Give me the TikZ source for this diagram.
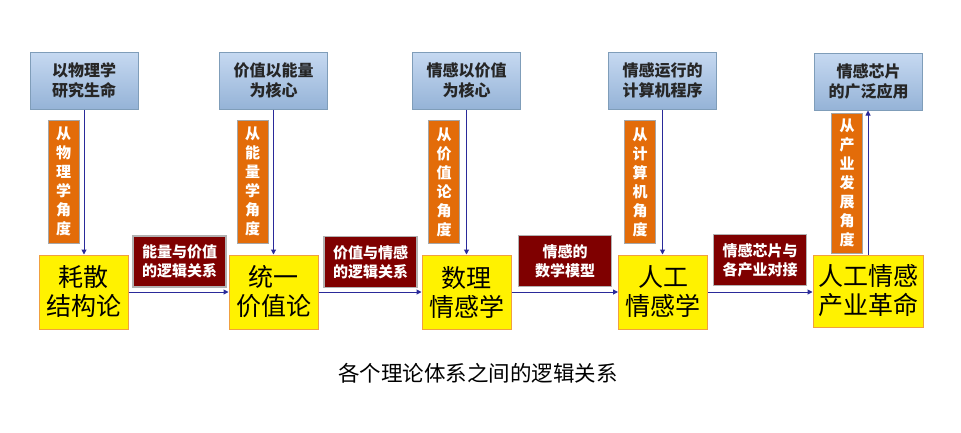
\documentclass[tikz,border=0pt]{standalone}
\usepackage{fontspec}
\setmainfont{Noto Sans CJK SC}
\usetikzlibrary{arrows.meta,calc}
\definecolor{blueA}{HTML}{C6D9F1}
\definecolor{blueB}{HTML}{95B3D7}
\definecolor{blueBorder}{HTML}{7F9DB9}
\definecolor{orangeF}{HTML}{E36C09}
\definecolor{darkredF}{HTML}{7F0000}
\definecolor{yBorder}{HTML}{F0A040}
\definecolor{arrowBlue}{HTML}{2A2A9A}
\begin{document}
\begin{tikzpicture}[x=1pt,y=-1pt,
  topbox/.style={draw=blueBorder, line width=1pt, top color=blueA, bottom color=blueB,
    minimum width=108pt, minimum height=57pt, inner sep=0pt, align=center,
    font=\fontsize{16}{20.5}\selectfont\bfseries, text=black!85},
  anglebox/.style={fill=orangeF, draw=gray!70, line width=1pt, minimum width=31pt,
    minimum height=123pt, inner sep=0pt, align=center, text=white,
    font=\fontsize{15}{19}\selectfont\bfseries},
  theory/.style={fill=yellow, draw=yBorder, line width=1pt, minimum width=89pt,
    minimum height=74pt, inner sep=0pt, align=center, font=\fontsize{25}{29}\selectfont},
  linkbox/.style={fill=darkredF, draw=gray!60, line width=1.2pt, minimum width=93pt,
    minimum height=51pt, inner sep=0pt, align=center, text=white,
    font=\fontsize{15}{19}\selectfont\bfseries},
  arr/.style={draw=arrowBlue, line width=1pt, -{Triangle[length=5pt,width=5pt]}}
]
\useasboundingbox[fill=white] (0,0) rectangle (961,432);

\node[topbox] (t1) at (84,80.5) {以物理学\\研究生命};
\node[topbox] (t2) at (273.5,80.5) {价值以能量\\为核心};
\node[topbox] (t3) at (466.5,80.5) {情感以价值\\为核心};
\node[topbox] (t4) at (662.5,80.5) {情感运行的\\计算机程序};
\node[topbox] (t5) at (868.5,81.5) {情感芯片\\的广泛应用};

\node[anglebox] (o1) at (63.5,181.5) {从\\物\\理\\学\\角\\度};
\node[anglebox] (o2) at (252.5,181.5) {从\\能\\量\\学\\角\\度};
\node[anglebox] (o3) at (444,182) {从\\价\\值\\论\\角\\度};
\node[anglebox] (o4) at (640,182) {从\\计\\算\\机\\角\\度};
\node[anglebox, minimum height=140pt] (o5) at (847,183) {从\\产\\业\\发\\展\\角\\度};

\node[theory] (y1) at (83.5,292) {耗散\\结构论};
\node[theory] (y2) at (273.5,292) {统一\\价值论};
\node[theory] (y3) at (466.5,292) {数理\\情感学};
\node[theory] (y4) at (663,292) {人工\\情感学};
\node[theory, minimum width=110pt, minimum height=72pt] (y5) at (868,291) {人工情感\\产业革命};

\node[linkbox] (r1) at (179.5,261.5) {能量与价值\\的逻辑关系};
\node[linkbox] (r2) at (370.5,262) {价值与情感\\的逻辑关系};
\node[linkbox] (r3) at (565,261) {情感的\\数学模型};
\node[linkbox] (r4) at (760,260) {情感芯片与\\各产业对接};

\draw[arr] (t1.south) -- (t1.south |- y1.north);
\draw[arr] (t2.south) -- (t2.south |- y2.north);
\draw[arr] (t3.south) -- (t3.south |- y3.north);
\draw[arr] (t4.south) -- (t4.south |- y4.north);
\draw[arr] (y5.north) -- (y5.north |- t5.south);

\draw[arr] (y1.east) -- (y1.east -| y2.west);
\draw[arr] (y2.east) -- (y2.east -| y3.west);
\draw[arr] (y3.east) -- (y3.east -| y4.west);
\draw[arr] (y4.east) -- (y4.east -| y5.west);

\node[font=\fontsize{21.5}{24}\selectfont, text=black] (cap) at (478,373) {各个理论体系之间的逻辑关系};
\end{tikzpicture}
\end{document}
